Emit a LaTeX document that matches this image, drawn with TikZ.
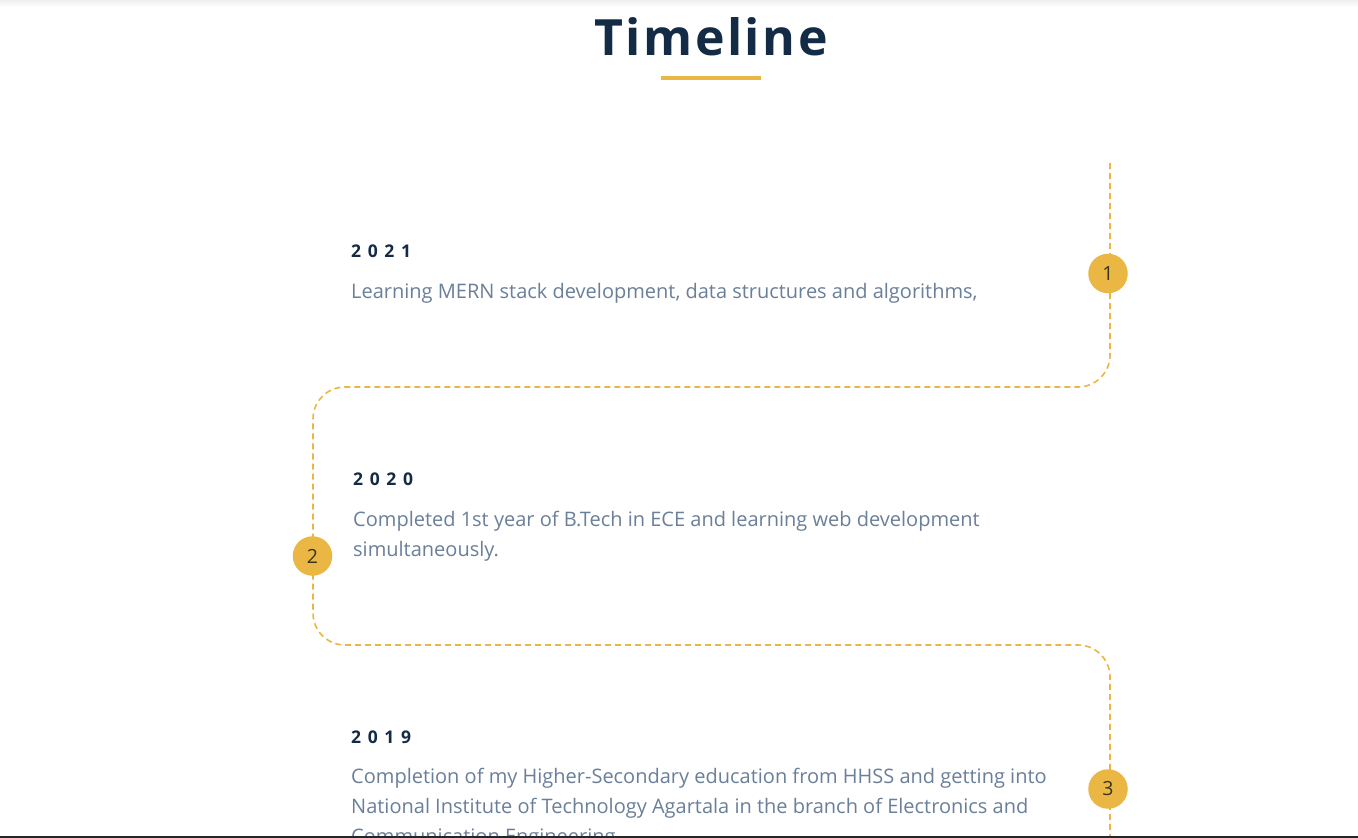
\documentclass[tikz,border=0pt]{standalone}
\usepackage{fontspec}
\setmainfont{Open Sans}
\newfontfamily\titlefont[LetterSpace=5]{Open Sans}
\newfontfamily\yearfont[LetterSpace=38]{Open Sans}
\definecolor{gold}{HTML}{EAB745}
\definecolor{navy}{HTML}{132B45}
\definecolor{bodyc}{HTML}{6A7F99}
\definecolor{numc}{HTML}{3A3419}
\tikzset{
  yearlbl/.style={anchor=base west, inner sep=0pt, text=navy, font=\yearfont\fontsize{17.5}{20}\selectfont\bfseries},
  bodylbl/.style={anchor=base west, inner sep=0pt, text=bodyc, font=\fontsize{20}{30}\selectfont},
  stepcirc/.style={circle, fill=gold, minimum size=39.5pt, inner sep=0pt, text=numc, font=\fontsize{19.5}{22}\selectfont},
  pathline/.style={draw=gold, line width=1.6pt, dash pattern=on 6pt off 4pt, rounded corners=32pt}
}
\begin{document}
\begin{tikzpicture}[x=1pt,y=-1pt]
\useasboundingbox (0,0) rectangle (1358,838);
\clip (0,0) rectangle (1358,838);
\fill[white] (0,0) rectangle (1358,838);
\shade[top color=black!6, bottom color=white] (0,0) rectangle (1358,7);
% title
\node[anchor=base, inner sep=0pt, text=navy, font=\titlefont\fontsize{50}{56}\selectfont\bfseries] (title) at (711,55) {Timeline};
\fill[gold] (661,76) rectangle (761,80);
% path
\coordinate (p0) at (1110,163);
\coordinate (p1) at (1110,387);
\coordinate (p2) at (313,387);
\coordinate (p3) at (313,645);
\coordinate (p4) at (1110,645);
\coordinate (p5) at (1110,850);
\draw[pathline] (p0) -- (p1) -- (p2) -- (p3) -- (p4) -- (p5);
% circles
\node[stepcirc] (c1) at (1108,273.5) {1};
\node[stepcirc] (c2) at (312.5,556) {2};
\node[stepcirc] (c3) at (1108,789) {3};
% entries
\node[yearlbl] (y1) at (351,257) {2021};
\node[bodylbl] (b1) at (351,298) {Learning MERN stack development, data structures and algorithms,};
\node[yearlbl] (y2) at (353,485) {2020};
\node[bodylbl] (b2a) at (353,526) {Completed 1st year of B.Tech in ECE and learning web development};
\node[bodylbl] (b2b) at (353,556) {simultaneously.};
\node[yearlbl] (y3) at (351,743) {2019};
\node[bodylbl] (b3a) at (351,783) {Completion of my Higher-Secondary education from HHSS and getting into};
\node[bodylbl] (b3b) at (351,813) {National Institute of Technology Agartala in the branch of Electronics and};
\node[bodylbl] (b3c) at (351,843) {Communication Engineering};
\fill[black!85] (0,836) rectangle (1358,838);
\end{tikzpicture}
\end{document}
